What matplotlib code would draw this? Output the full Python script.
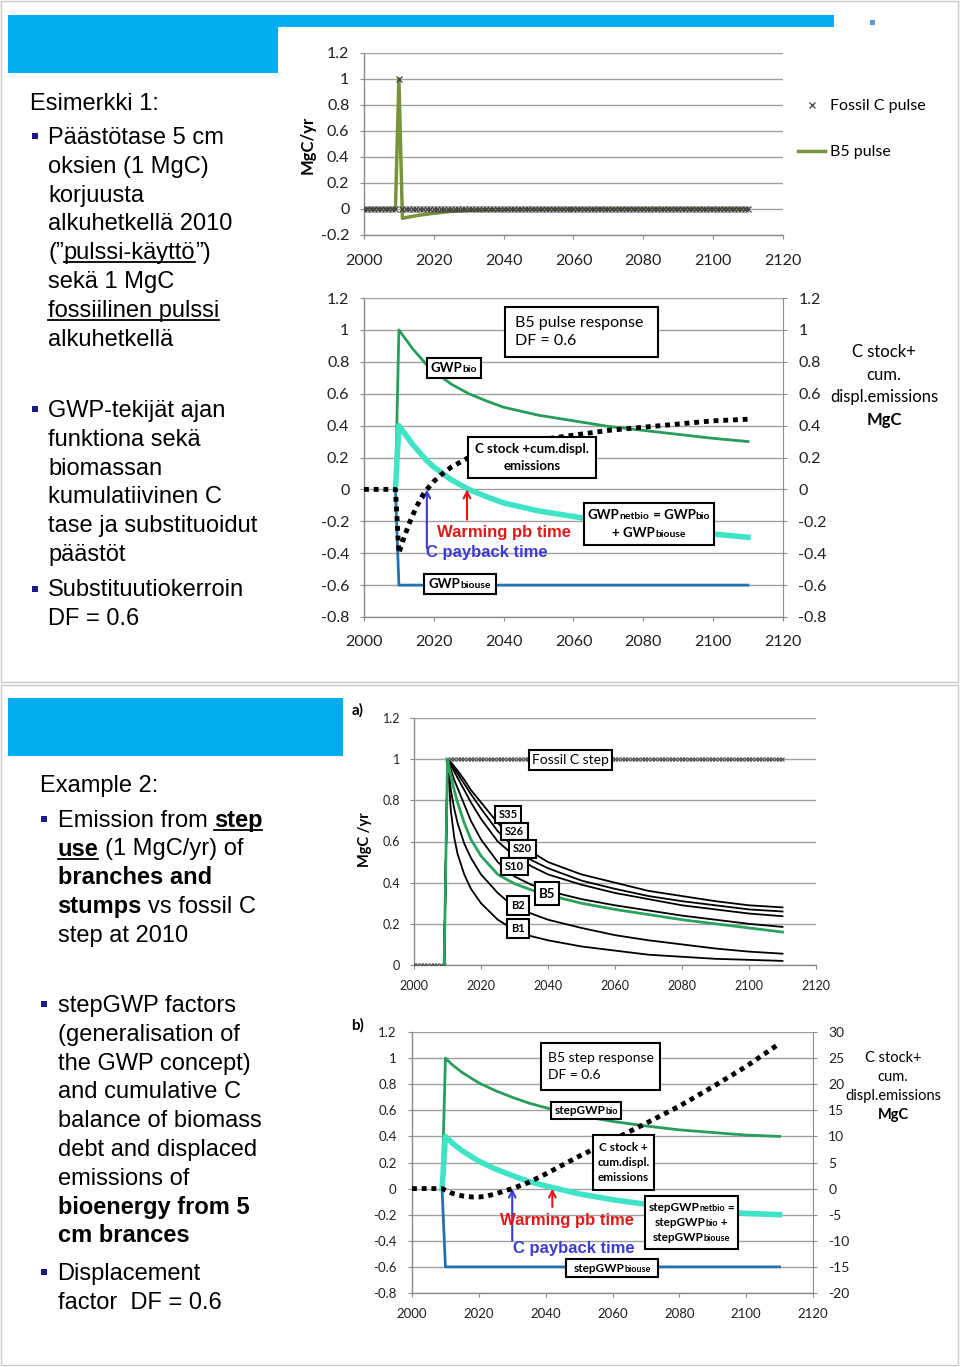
import matplotlib
matplotlib.use('Agg')
import matplotlib.pyplot as plt
from matplotlib.patches import Rectangle
from matplotlib.lines import Line2D
from matplotlib.offsetbox import TextArea, HPacker, VPacker, AnnotationBbox

W, H = 960, 1367
CHART = ['Lato', 'DejaVu Sans']
SLIDE = ['Liberation Sans', 'DejaVu Sans']
plt.rcParams['font.family'] = CHART

# ======================= DATA =======================
years = list(range(2000, 2111))
x_ticks = [2000, 2020, 2040, 2060, 2080, 2100, 2120]

# --- top chart: pulse emissions ---
fossil_pulse = [
    0, 0, 0, 0, 0, 0, 0, 0, 0, 0,      # 2000-2009
    1, 0, 0, 0, 0, 0, 0, 0, 0, 0,      # 2010-2019
    0, 0, 0, 0, 0, 0, 0, 0, 0, 0,
    0, 0, 0, 0, 0, 0, 0, 0, 0, 0,
    0, 0, 0, 0, 0, 0, 0, 0, 0, 0,
    0, 0, 0, 0, 0, 0, 0, 0, 0, 0,
    0, 0, 0, 0, 0, 0, 0, 0, 0, 0,
    0, 0, 0, 0, 0, 0, 0, 0, 0, 0,
    0, 0, 0, 0, 0, 0, 0, 0, 0, 0,
    0, 0, 0, 0, 0, 0, 0, 0, 0, 0,
    0, 0, 0, 0, 0, 0, 0, 0, 0, 0,      # 2100-2109
    0]                                  # 2110
b5p_years = [2000, 2009, 2010, 2011, 2012, 2014, 2016, 2018, 2020, 2022, 2025,
             2030, 2035, 2040, 2050, 2060, 2080, 2110]
b5p_vals = [0, 0, 1.0, -0.072, -0.066, -0.056, -0.047, -0.040, -0.033, -0.027,
            -0.018, -0.010, -0.006, -0.004, -0.002, -0.001, 0, 0]
pulse_yticks = [-0.2, 0, 0.2, 0.4, 0.6, 0.8, 1.0, 1.2]

# --- top chart: B5 pulse response ---
resp_years = [2009, 2010, 2011, 2012, 2014, 2016, 2018, 2020, 2025, 2030, 2035,
              2040, 2050, 2060, 2070, 2080, 2090, 2100, 2110]
gwp_bio = [0, 1.0, 0.97, 0.94, 0.88, 0.83, 0.78, 0.74, 0.66, 0.60, 0.555,
           0.515, 0.465, 0.43, 0.395, 0.37, 0.345, 0.32, 0.30]
gwp_netbio = [0, 0.40, 0.37, 0.34, 0.28, 0.23, 0.18, 0.14, 0.06, 0.0, -0.045,
              -0.085, -0.135, -0.17, -0.205, -0.23, -0.255, -0.28, -0.30]
gwp_biouse = [0, -0.6, -0.6, -0.6, -0.6, -0.6, -0.6, -0.6, -0.6, -0.6, -0.6,
              -0.6, -0.6, -0.6, -0.6, -0.6, -0.6, -0.6, -0.6]
cst_years = [2000, 2009, 2010, 2011, 2012, 2013, 2014, 2015, 2016, 2017, 2018,
             2020, 2022, 2025, 2030, 2035, 2040, 2050, 2060, 2070, 2080, 2090,
             2100, 2110]
cstock_pulse = [0, 0, -0.40, -0.33, -0.27, -0.21, -0.16, -0.11, -0.07, -0.03,
                0.0, 0.05, 0.09, 0.14, 0.20, 0.24, 0.27, 0.31, 0.34, 0.37,
                0.39, 0.41, 0.43, 0.44]
resp_yticks = [-0.8, -0.6, -0.4, -0.2, 0, 0.2, 0.4, 0.6, 0.8, 1.0, 1.2]
pulse_warming_pb = 2029.5
pulse_c_payback = 2018

# --- bottom chart a: step emissions ---
fossil_step = [
    0, 0, 0, 0, 0, 0, 0, 0, 0, 0,      # 2000-2009
    1, 1, 1, 1, 1, 1, 1, 1, 1, 1,      # 2010-2019
    1, 1, 1, 1, 1, 1, 1, 1, 1, 1,
    1, 1, 1, 1, 1, 1, 1, 1, 1, 1,
    1, 1, 1, 1, 1, 1, 1, 1, 1, 1,
    1, 1, 1, 1, 1, 1, 1, 1, 1, 1,
    1, 1, 1, 1, 1, 1, 1, 1, 1, 1,
    1, 1, 1, 1, 1, 1, 1, 1, 1, 1,
    1, 1, 1, 1, 1, 1, 1, 1, 1, 1,
    1, 1, 1, 1, 1, 1, 1, 1, 1, 1,
    1, 1, 1, 1, 1, 1, 1, 1, 1, 1,      # 2100-2109
    1]                                  # 2110
step_years = [2009, 2010, 2011, 2012, 2013, 2015, 2017, 2020, 2025, 2030, 2035,
              2040, 2050, 2060, 2070, 2080, 2090, 2100, 2110]
s35 = [0, 1, 0.985, 0.965, 0.945, 0.90, 0.85, 0.79, 0.69, 0.61, 0.55, 0.50,
       0.44, 0.40, 0.36, 0.335, 0.31, 0.29, 0.28]
s26 = [0, 1, 0.98, 0.955, 0.93, 0.88, 0.83, 0.76, 0.65, 0.57, 0.51, 0.47,
       0.41, 0.37, 0.335, 0.31, 0.29, 0.27, 0.26]
s20 = [0, 1, 0.97, 0.94, 0.91, 0.85, 0.79, 0.71, 0.60, 0.53, 0.48, 0.44,
       0.39, 0.35, 0.32, 0.29, 0.27, 0.25, 0.237]
s10 = [0, 1, 0.95, 0.90, 0.86, 0.78, 0.70, 0.61, 0.50, 0.43, 0.39, 0.36,
       0.32, 0.29, 0.265, 0.24, 0.22, 0.20, 0.185]
b5 = [0, 1, 0.92, 0.85, 0.79, 0.69, 0.61, 0.53, 0.44, 0.395, 0.365, 0.34,
      0.30, 0.27, 0.245, 0.22, 0.20, 0.18, 0.16]
b2 = [0, 1, 0.85, 0.76, 0.69, 0.59, 0.52, 0.44, 0.35, 0.28, 0.25, 0.22,
      0.18, 0.145, 0.12, 0.10, 0.08, 0.065, 0.055]
b1 = [0, 1, 0.75, 0.62, 0.54, 0.44, 0.37, 0.30, 0.22, 0.17, 0.14, 0.12,
      0.09, 0.07, 0.05, 0.04, 0.03, 0.025, 0.02]
step_black_series = [s35, s26, s20, s10, b2, b1]
a_yticks = [0, 0.2, 0.4, 0.6, 0.8, 1.0, 1.2]

# --- bottom chart b: B5 step response ---
sr_years = [2009, 2010, 2012, 2015, 2020, 2025, 2030, 2035, 2040, 2050, 2060,
            2070, 2080, 2090, 2100, 2110]
step_bio = [0, 1.0, 0.95, 0.89, 0.81, 0.75, 0.70, 0.655, 0.62, 0.56, 0.515,
            0.48, 0.45, 0.43, 0.41, 0.40]
step_netbio = [0, 0.40, 0.35, 0.29, 0.21, 0.15, 0.10, 0.055, 0.02, -0.04,
               -0.085, -0.12, -0.15, -0.17, -0.19, -0.20]
step_biouse = [0, -0.6, -0.6, -0.6, -0.6, -0.6, -0.6, -0.6, -0.6, -0.6, -0.6,
               -0.6, -0.6, -0.6, -0.6, -0.6]
scs_years = [2000, 2009, 2010, 2012, 2015, 2018, 2020, 2022, 2025, 2028, 2030,
             2035, 2040, 2045, 2050, 2060, 2070, 2080, 2090, 2100, 2110]
step_cstock = [0, 0, -0.3, -0.9, -1.4, -1.6, -1.6, -1.5, -1.0, -0.4, 0.0, 1.2,
               2.8, 4.5, 6.2, 9.3, 12.5, 15.8, 19.5, 23.4, 27.8]
b_right_ticks = [-20, -15, -10, -5, 0, 5, 10, 15, 20, 25, 30]
step_warming_pb = 2042
step_c_payback = 2030

# --- slide texts ---
top_title = 'Esimerkki 1:'
top_bullets = [
    ['Päästötase 5 cm', 'oksien (1 MgC)', 'korjuusta', 'alkuhetkellä 2010',
     [('(”', 0, 0), ('pulssi-käyttö', 0, 1), ('”)', 0, 0)], 'sekä 1 MgC',
     [('fossiilinen pulssi', 0, 1)], 'alkuhetkellä'],
    ['GWP-tekijät ajan', 'funktiona sekä', 'biomassan', 'kumulatiivinen C',
     'tase ja substituoidut', 'päästöt'],
    ['Substituutiokerroin', 'DF = 0.6'],
]
bottom_title = 'Example 2:'
bottom_bullets = [
    [[('Emission from', 0, 0), (' step', 1, 1)],
     [('use', 1, 1), (' (1 MgC/yr) of', 0, 0)],
     [('branches and', 1, 0)],
     [('stumps', 1, 0), (' vs fossil C', 0, 0)],
     'step at 2010'],
    ['stepGWP factors', '(generalisation of', 'the GWP concept)',
     'and cumulative C', 'balance of biomass', 'debt and displaced',
     'emissions of', [('bioenergy from 5', 1, 0)], [('cm brances', 1, 0)]],
    ['Displacement', 'factor  DF = 0.6'],
]

# ======================= STYLE =======================
BLUE_BAR = '#00AEEF'
GRID = '#a0a0a0'
AXC = '#8c8c8c'
DKGREEN = '#279d5c'
CYAN = '#3fe3c6'
USEBLUE = '#2471b0'
OLIVE = '#77933C'
LINEGREEN = '#2aa35c'
BULLET = '#1b1b8f'

fig = plt.figure(figsize=(W / 100, H / 100), dpi=100)
fig.patch.set_facecolor('white')


def px_axes(x0, y0, x1, y1):
    return fig.add_axes([x0 / W, 1 - y1 / H, (x1 - x0) / W, (y1 - y0) / H])


def frect(x0, y0, x1, y1, **kw):
    r = Rectangle((x0 / W, 1 - y1 / H), (x1 - x0) / W, (y1 - y0) / H,
                  transform=fig.transFigure, **kw)
    fig.add_artist(r)
    return r


def fmt(v):
    s = f'{round(v, 2):g}'
    return '0' if s == '-0' else s


def style_axes(ax, ylim, yticks, fs, ypad, xpad):
    ax.set_xlim(2000, 2120)
    ax.set_ylim(*ylim)
    ax.set_xticks(x_ticks)
    ax.set_xticklabels([str(t) for t in x_ticks])
    ax.set_yticks(yticks)
    ax.set_yticklabels([fmt(v) for v in yticks])
    ax.yaxis.grid(True, color=GRID, lw=1)
    ax.set_axisbelow(True)
    ax.patch.set_alpha(0)
    for s in ['top', 'right']:
        ax.spines[s].set_visible(False)
    for s in ['left', 'bottom']:
        ax.spines[s].set_color(AXC)
        ax.spines[s].set_linewidth(1)
    ax.tick_params(axis='both', color=AXC, labelcolor='#202020', length=3,
                   direction='out', labelsize=fs)
    ax.tick_params(axis='y', pad=ypad)
    ax.tick_params(axis='x', pad=xpad)


def right_axis(ax, ylim, yticks, fs, pad):
    r = ax.twinx()
    r.set_ylim(*ylim)
    r.set_yticks(yticks)
    r.set_yticklabels([fmt(v) for v in yticks])
    for s in ['top', 'left', 'bottom']:
        r.spines[s].set_visible(False)
    r.spines['right'].set_color(AXC)
    r.tick_params(axis='y', color=AXC, labelcolor='#202020', length=3,
                  labelsize=fs, pad=pad)
    r.patch.set_alpha(0)
    return r


def box(rect, lines, size=9.5, sub=7.0, align='center', pad=6, lw=1.5, vsep=1):
    x0, y0, x1, y1 = rect
    frect(x0, y0, x1, y1, fc='white', ec='black', lw=lw, zorder=20)
    rows = []
    for line in lines:
        if isinstance(line, str):
            line = [(line, 'b')]
        kids = []
        for s, k in line:
            if k == 's':
                props = dict(fontsize=sub, fontweight='bold')
            elif k == 'b':
                props = dict(fontsize=size, fontweight='bold')
            else:
                props = dict(fontsize=size, fontweight='normal')
            props.update(family=CHART, color='black')
            kids.append(TextArea(s, textprops=props))
        rows.append(HPacker(children=kids, align='baseline', pad=0, sep=0))
    pk = VPacker(children=rows, align=align, pad=0, sep=vsep)
    if align == 'center':
        xy, ba = ((x0 + x1) / 2, H - (y0 + y1) / 2), (0.5, 0.5)
    else:
        xy, ba = (x0 + pad, H - (y0 + y1) / 2), (0, 0.5)
    ab = AnnotationBbox(pk, xy, xycoords='figure pixels', frameon=False,
                        box_alignment=ba, pad=0, annotation_clip=False)
    ab.set_zorder(21)
    fig.add_artist(ab)


def ftext(x, y, s, **kw):
    return fig.text(x / W, 1 - y / H, s, **kw)


# ======================= SLIDE FRAMES =======================
frect(1, 1, 958, 682, fc='none', ec='#c8c8c8', lw=1, zorder=0.5)
frect(1, 685, 958, 1365, fc='none', ec='#c8c8c8', lw=1, zorder=0.5)
frect(8, 15, 834, 27, fc=BLUE_BAR, ec='none', zorder=0.6)
frect(8, 27, 278, 73, fc=BLUE_BAR, ec='none', zorder=0.6)
frect(8, 698, 343, 756, fc=BLUE_BAR, ec='none', zorder=0.6)
frect(870, 20, 875, 25, fc='#5b9bd5', ec='none', zorder=0.6)

# ======================= CHART 1: pulse =======================
ax1 = px_axes(364, 53, 783, 235)
style_axes(ax1, (-0.2, 1.2), pulse_yticks, 11.5, 7.5, 11)
ax1.plot(b5p_years, b5p_vals, color=OLIVE, lw=2.5, zorder=3)
ax1.plot(years, fossil_pulse, ls='none', marker='x', ms=4, mew=0.9,
         color='#404040', zorder=4)
h1 = Line2D([], [], marker='x', ls='none', color='#404040', ms=4, mew=0.9)
h2 = Line2D([], [], color=OLIVE, lw=2.5)
ax1.legend([h1, h2], ['Fossil C pulse', 'B5 pulse'], loc='upper left',
           bbox_to_anchor=(798 / W, 1 - 99 / H), bbox_transform=fig.transFigure,
           frameon=False, fontsize=11.5, handlelength=1.7, handletextpad=0.3,
           labelspacing=2.0, borderpad=0, borderaxespad=0)
ftext(308, 145, 'MgC/yr', rotation=90, ha='center', va='center',
      fontsize=12, fontweight='bold')

# ======================= CHART 2: pulse response =======================
ax2 = px_axes(364, 298, 783, 617)
style_axes(ax2, (-0.8, 1.2), resp_yticks, 11.5, 7.5, 10)
ax2.plot(resp_years, gwp_biouse, color=USEBLUE, lw=2, zorder=3)
ax2.plot(resp_years, gwp_bio, color=DKGREEN, lw=2, zorder=3)
ax2.plot(resp_years, gwp_netbio, color=CYAN, lw=4, zorder=4)
ax2r = right_axis(ax2, (-0.8, 1.2), resp_yticks, 11.5, 8)
ax2r.plot(cst_years, cstock_pulse, color='black', lw=3.5, ls=(0, (1, 1)),
          zorder=5)
ax2.annotate('', xy=(pulse_warming_pb, 0.0), xytext=(pulse_warming_pb, -0.19),
             arrowprops=dict(arrowstyle='->', color='#e01818', lw=1.5,
                             shrinkA=0, shrinkB=0, mutation_scale=12), zorder=6)
ax2.annotate('', xy=(pulse_c_payback, 0.0), xytext=(pulse_c_payback, -0.37),
             arrowprops=dict(arrowstyle='->', color='#3b3bd0', lw=1.5,
                             shrinkA=0, shrinkB=0, mutation_scale=12), zorder=6)
ftext(437, 532, 'Warming pb time', ha='left', va='center', fontsize=12,
      fontweight='bold', color='#e01818', family=SLIDE, zorder=22)
ftext(426, 553, 'C payback time', ha='left', va='center', fontsize=12,
      fontweight='bold', color='#3b3bd0', family=SLIDE, zorder=22)
box((505, 307, 658, 357), [[('B5 pulse response', 'n')], [('DF = 0.6', 'n')]],
    size=11.5, align='left', pad=10, vsep=3)
box((427, 358, 481, 378), [[('GWP', 'b'), ('bio', 's')]], size=9.5, sub=7.5)
box((468, 437, 596, 478), ['C stock +cum.displ.', 'emissions'], size=9.5, vsep=3)
box((584, 503, 714, 545), [[('GWP', 'b'), ('netbio', 's'), (' = GWP', 'b'), ('bio', 's')],
                           [('+ GWP', 'b'), ('biouse', 's')]], size=9.5, sub=7.5, vsep=4)
box((424, 574, 496, 594), [[('GWP', 'b'), ('biouse', 's')]], size=9.5, sub=7.5)
for yy, s, w in [(352, 'C stock+', 'normal'), (375, 'cum.', 'normal'),
                 (397, 'displ.emissions', 'normal'), (420, 'MgC', 'bold')]:
    ftext(884, yy, s, ha='center', va='center', fontsize=12, fontweight=w)

# ======================= CHART a =======================
axa = px_axes(414, 718, 816, 965)
style_axes(axa, (0, 1.2), a_yticks, 9, 7, 7.5)
for ser in step_black_series:
    axa.plot(step_years, ser, color='black', lw=1.3, zorder=3)
axa.plot(step_years, b5, color=LINEGREEN, lw=2, zorder=4)
axa.plot(years, fossil_step, ls='none', marker='x', ms=3.5, mew=0.8,
         color='#505050', zorder=3)
ftext(365, 840, 'MgC /yr', rotation=90, ha='center', va='center',
      fontsize=10.5, fontweight='bold')
ftext(358, 710, 'a)', ha='center', va='center', fontsize=11, fontweight='bold')
box((529, 750, 612, 770), [[('Fossil C step', 'n')]], size=10)
box((495, 806, 521, 823), ['S35'], size=8)
box((501, 823, 528, 840), ['S26'], size=8)
box((509, 840, 536, 858), ['S20'], size=8)
box((501, 858, 528, 875), ['S10'], size=8)
box((535, 882, 559, 905), ['B5'], size=9.5)
box((507, 896, 529, 915), ['B2'], size=8)
box((507, 919, 529, 938), ['B1'], size=8)

# ======================= CHART b =======================
axb = px_axes(412, 1032, 813, 1293)
style_axes(axb, (-0.8, 1.2), resp_yticks, 9.5, 8, 7.5)
axb.plot(sr_years, step_biouse, color=USEBLUE, lw=2, zorder=3)
axb.plot(sr_years, step_bio, color=DKGREEN, lw=2, zorder=3)
axb.plot(sr_years, step_netbio, color=CYAN, lw=4, zorder=4)
axbr = right_axis(axb, (-20, 30), b_right_ticks, 10, 8)
axbr.plot(scs_years, step_cstock, color='black', lw=3.5, ls=(0, (1, 1)), zorder=5)
axb.annotate('', xy=(step_warming_pb, 0.0), xytext=(step_warming_pb, -0.14),
             arrowprops=dict(arrowstyle='->', color='#e01818', lw=1.5,
                             shrinkA=0, shrinkB=0, mutation_scale=12), zorder=6)
axb.annotate('', xy=(step_c_payback, 0.0), xytext=(step_c_payback, -0.40),
             arrowprops=dict(arrowstyle='->', color='#3b3bd0', lw=1.5,
                             shrinkA=0, shrinkB=0, mutation_scale=12), zorder=6)
ftext(500, 1221, 'Warming pb time', ha='left', va='center', fontsize=12,
      fontweight='bold', color='#e01818', family=SLIDE, zorder=22)
ftext(513, 1248, 'C payback time', ha='left', va='center', fontsize=12,
      fontweight='bold', color='#3b3bd0', family=SLIDE, zorder=22)
ftext(358, 1025, 'b)', ha='center', va='center', fontsize=11, fontweight='bold')
box((541, 1043, 660, 1090), [[('B5 step response', 'n')], [('DF = 0.6', 'n')]],
    size=10, align='left', pad=7, vsep=4)
box((551, 1102, 621, 1119), [[('stepGWP', 'b'), ('bio', 's')]], size=8.5, sub=6.5)
box((593, 1135, 654, 1190), ['C stock +', 'cum.displ.', 'emissions'], size=8.5, vsep=3)
box((645, 1196, 738, 1249), [[('stepGWP', 'b'), ('netbio', 's'), (' =', 'b')],
                             [('stepGWP', 'b'), ('bio', 's'), (' +', 'b')],
                             [('stepGWP', 'b'), ('biouse', 's')]],
    size=8.5, sub=6.5, vsep=3)
box((566, 1259, 658, 1277), [[('stepGWP', 'b'), ('biouse', 's')]], size=8.5, sub=6.5)
for yy, s, w in [(1058, 'C stock+', 'normal'), (1077, 'cum.', 'normal'),
                 (1096, 'displ.emissions', 'normal'), (1115, 'MgC', 'bold')]:
    ftext(893, yy, s, ha='center', va='center', fontsize=10.5, fontweight=w)

# ======================= SLIDE TEXT =======================
FS = 17
renderer = fig.canvas.get_renderer()
space_px = 0.278 * FS * 100 / 72


def text_line(x, base, line):
    if isinstance(line, str):
        line = [(line, 0, 0)]
    cx = x
    for s, bold, ul in line:
        if s.startswith(' '):
            s = s.lstrip(' ')
            cx += space_px
        t = fig.text(cx / W, 1 - base / H, s, fontsize=FS, family=SLIDE,
                     fontweight='bold' if bold else 'normal', ha='left',
                     va='baseline', color='black')
        bb = t.get_window_extent(renderer=renderer)
        if ul:
            yu = (H - base - 3) / H
            fig.add_artist(Line2D([bb.x0 / W, bb.x1 / W], [yu, yu],
                                  transform=fig.transFigure, color='black',
                                  lw=1.3))
        cx = bb.x1


def bullets(groups, starts, tx, bx, step=28.8):
    for grp, b0 in zip(groups, starts):
        frect(bx, b0 - 11, bx + 6, b0 - 5, fc=BULLET, ec='none')
        for i, line in enumerate(grp):
            text_line(tx, b0 + i * step, line)


text_line(30, 110, top_title)
bullets(top_bullets, [144, 417, 596.5], 48, 32)
text_line(40, 792, bottom_title)
bullets(bottom_bullets, [826.7, 1012, 1280], 57.5, 41)

fig.savefig('out.png', dpi=100)
